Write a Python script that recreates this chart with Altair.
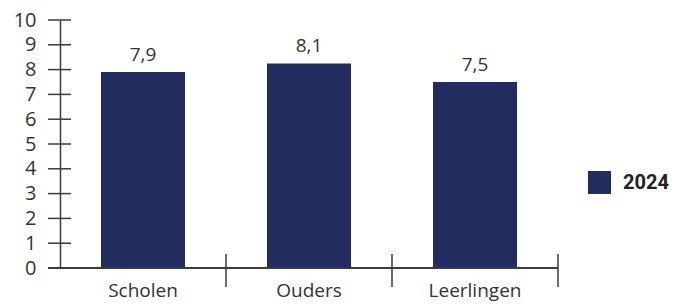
import altair as alt
import pandas as pd

categories = ["Scholen", "Ouders", "Leerlingen"]
values = [7.9, 8.25, 7.5]
labels = ["7,9", "8,1", "7,5"]
series = ["2024", "2024", "2024"]
y_ticks = [0, 1, 2, 3, 4, 5, 6, 7, 8, 9, 10]

df = pd.DataFrame({"cat": categories, "val": values, "jaar": series, "label": labels})
ticks_df = pd.DataFrame({"t": y_ticks})

FONT = "Open Sans"
NAVY = "#232c5f"
AX = "#3a3a3a"

x_scale = alt.Scale(domain=categories, paddingInner=0, paddingOuter=0)
y_scale = alt.Scale(domain=[0, 10], nice=False)

x_axis = alt.Axis(title=None, domain=False, ticks=False, tickSize=0,
                  labelPadding=13, labelFontSize=19, labelFont=FONT,
                  labelColor="#333333", labelAngle=0)
y_axis = alt.Axis(title=None, values=y_ticks, ticks=False, tickSize=0,
                  labelOverlap=False,
                  labelPadding=24, labelFontSize=20, labelFont=FONT,
                  labelColor="#333333", domainColor=AX, domainWidth=1.5,
                  grid=False)

bars = alt.Chart(df).mark_bar(size=84, color=NAVY).encode(
    x=alt.X("cat:N", scale=x_scale, sort=categories, axis=x_axis),
    y=alt.Y("val:Q", scale=y_scale, axis=y_axis),
    fill=alt.Fill("jaar:N", scale=alt.Scale(range=[NAVY]),
                  legend=alt.Legend(title=None, orient="none", legendX=528, legendY=151,
                                    symbolType="square", symbolSize=529,
                                    symbolStrokeWidth=0, padding=0,
                                    labelFont="Roboto", labelFontWeight="bold",
                                    labelFontSize=20, labelColor="#222222",
                                    labelOffset=12)),
)

text = alt.Chart(df).mark_text(baseline="bottom", dy=-7, fontSize=19, font=FONT,
                               color="#333333").encode(
    x=alt.X("cat:N", scale=x_scale, sort=categories, axis=x_axis),
    y=alt.Y("val:Q", scale=y_scale, axis=y_axis),
    text="label:N",
)

ytick_rules = alt.Chart(ticks_df).mark_rule(color=AX, strokeWidth=1.5).encode(
    y=alt.Y("t:Q", scale=y_scale, axis=y_axis),
    x=alt.value(-12),
    x2=alt.value(11),
)

xaxis_line = alt.Chart(df).mark_rule(color=AX, strokeWidth=1.5).encode(
    x=alt.value(-12), x2=alt.value(498), y=alt.value(248)
)

xtick_rules = alt.Chart(df).mark_rule(color=AX, strokeWidth=1.5).encode(
    x=alt.X("cat:N", scale=x_scale, sort=categories, bandPosition=1, axis=x_axis),
    y=alt.value(234),
    y2=alt.value(267),
)

chart = alt.layer(bars, text, ytick_rules, xaxis_line, xtick_rules).properties(
    width=498, height=248,
    autosize=alt.AutoSizeParams(type="none"),
    padding={"left": 52, "top": 12, "right": 120, "bottom": 36},
).configure_view(stroke=None).configure_axis(labelOverlap=False, labelFlush=False)

chart.save("out.html", embed_options={"renderer": "svg", "actions": False})
